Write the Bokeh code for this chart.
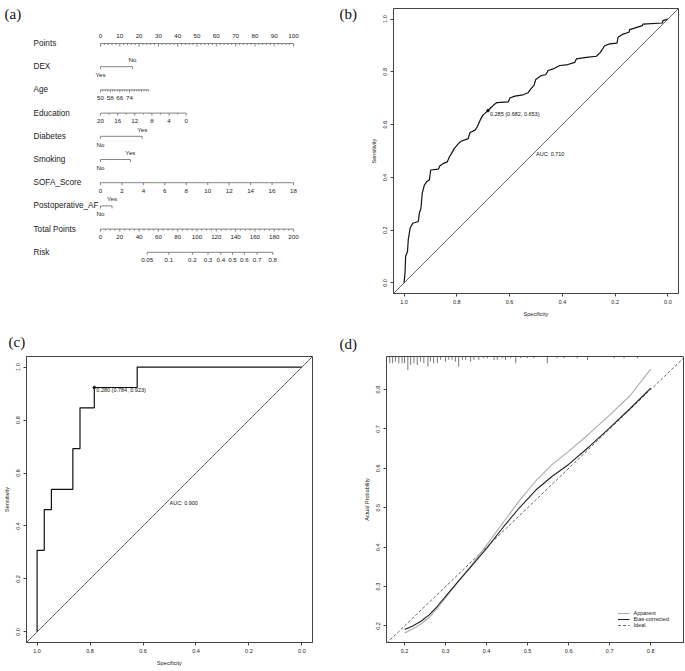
from bokeh.plotting import figure
from bokeh.models import Range1d, FixedTicker, PrintfTickFormatter, Label, Slope, Legend, LegendItem, ColumnDataSource, Title
from bokeh.layouts import row, column
from bokeh.embed import file_html
from bokeh.resources import INLINE
from bokeh.core.properties import value

FONT = "Liberation Sans"
SERIF = "Liberation Serif"

# ---------------- data: (a) nomogram ----------------
nomo_rows = ["Points", "DEX", "Age", "Education", "Diabetes", "Smoking",
             "SOFA_Score", "Postoperative_AF", "Total Points", "Risk"]
points_labels = [0, 10, 20, 30, 40, 50, 60, 70, 80, 90, 100]
dex_levels = ["Yes", "No"]
dex_points = [0.0, 16.6]
age_range = [50, 90]
age_points = [0.0, 25.0]
age_labels = [50, 58, 66, 74]
edu_range = [20, 0]
edu_points = [0.0, 44.4]
edu_labels = [20, 16, 12, 8, 4, 0]
diab_levels = ["No", "Yes"]
diab_points = [0.0, 21.6]
smoke_levels = ["No", "Yes"]
smoke_points = [0.0, 15.5]
sofa_range = [0, 18]
sofa_points = [0.0, 100.0]
sofa_labels = [0, 2, 4, 6, 8, 10, 12, 14, 16, 18]
af_levels = ["No", "Yes"]
af_points = [0.0, 6.0]
total_labels = [0, 20, 40, 60, 80, 100, 120, 140, 160, 180, 200]
risk_labels = ["0.05", "0.1", "0.2", "0.3", "0.4", "0.5", "0.6", "0.7", "0.8"]
risk_total_points = [48.4, 70.8, 95.2, 111.4, 124.7, 136.8, 149.0, 162.3, 178.5]

# ---------------- data: (b) ROC training ----------------
spec_b = [1.000, 0.996, 0.994, 0.987, 0.984, 0.977, 0.967, 0.946, 0.942, 0.936, 0.931,
          0.923, 0.914, 0.904, 0.899, 0.870, 0.864, 0.851, 0.836, 0.828, 0.820, 0.810,
          0.794, 0.784, 0.757, 0.750, 0.731, 0.723, 0.712, 0.702, 0.682, 0.675, 0.660,
          0.649, 0.605, 0.599, 0.580, 0.549, 0.530, 0.517, 0.508, 0.501, 0.488, 0.479,
          0.463, 0.454, 0.435, 0.410, 0.385, 0.353, 0.347, 0.309, 0.271, 0.256, 0.240,
          0.221, 0.193, 0.189, 0.170, 0.148, 0.145, 0.097, 0.095, 0.021, 0.019, 0.000]
sens_b = [0.000, 0.044, 0.101, 0.119, 0.164, 0.208, 0.226, 0.233, 0.264, 0.283, 0.340,
          0.371, 0.384, 0.390, 0.428, 0.431, 0.444, 0.453, 0.459, 0.478, 0.491, 0.509,
          0.528, 0.537, 0.547, 0.570, 0.579, 0.591, 0.616, 0.635, 0.653, 0.660, 0.675,
          0.683, 0.686, 0.701, 0.708, 0.713, 0.721, 0.738, 0.748, 0.771, 0.780, 0.786,
          0.789, 0.805, 0.811, 0.824, 0.826, 0.836, 0.849, 0.855, 0.859, 0.874, 0.899,
          0.906, 0.909, 0.931, 0.943, 0.950, 0.960, 0.975, 0.981, 0.985, 0.994, 1.000]
thr_b = {"thr": 0.285, "spec": 0.682, "sens": 0.653}
auc_b = 0.710

# ---------------- data: (c) ROC validation ----------------
spec_c = [1.0, 1.0, 0.973, 0.973, 0.946, 0.946, 0.865, 0.865, 0.838, 0.838, 0.784, 0.784, 0.622, 0.622, 0.0]
sens_c = [0.0, 0.308, 0.308, 0.462, 0.462, 0.538, 0.538, 0.692, 0.692, 0.846, 0.846, 0.923, 0.923, 1.0, 1.0]
thr_c = {"thr": 0.280, "spec": 0.784, "sens": 0.923}
auc_c = 0.900

# ---------------- data: (d) calibration ----------------
calib_pred = [0.20, 0.22, 0.24, 0.26, 0.28, 0.30, 0.33, 0.36, 0.40, 0.44, 0.48, 0.52,
              0.56, 0.60, 0.65, 0.70, 0.75, 0.80]
calib_apparent = [0.182, 0.192, 0.205, 0.222, 0.245, 0.272, 0.312, 0.350, 0.405, 0.462,
                  0.518, 0.568, 0.610, 0.643, 0.688, 0.735, 0.785, 0.852]
calib_bias = [0.191, 0.200, 0.212, 0.228, 0.250, 0.275, 0.312, 0.348, 0.397, 0.450,
              0.500, 0.545, 0.580, 0.610, 0.655, 0.703, 0.752, 0.804]
rug_x = [0.164, 0.171, 0.178, 0.186, 0.194, 0.200, 0.208, 0.215, 0.223, 0.231, 0.239,
         0.247, 0.257, 0.263, 0.271, 0.280, 0.288, 0.300, 0.308, 0.316, 0.324, 0.332,
         0.341, 0.349, 0.361, 0.369, 0.381, 0.393, 0.402, 0.418, 0.426, 0.438, 0.446,
         0.459, 0.471, 0.483, 0.499, 0.515, 0.548, 0.572, 0.589, 0.621, 0.646, 0.711,
         0.735, 0.768]
rug_count = [4, 4, 3, 4, 4, 4, 8, 5, 4, 5, 3, 4, 6, 3, 4, 4, 2, 3, 2, 2, 3, 6,
             2, 2, 3, 2, 2, 1, 1, 2, 2, 1, 2, 1, 4, 1, 1, 1, 4, 1, 1, 1, 2, 1, 1, 1]

LINE = "#444444"

# layout geometry (page starts at 0,0)
W1A, W2B = 360, 324      # row 1 widths
W1C, W2D = 338, 346      # row 2 widths
H1, H2 = 320, 350
R1_TOP, R1_BOT = 8, 27          # row-1 frame borders
R2_TOP, R2_BOT = 36, 28         # row-2 frame borders

# ================= panel (a) =================
PXX = 1.93           # pixels per point
PXY = 23.2           # pixels per row
X0 = 100             # pixel of 0 points
Y0 = 43              # pixel of row 0
PX = 1 / PXY
fa = figure(width=W1A, height=H1,
            x_range=Range1d(-X0 / PXX, (W1A - X0) / PXX),
            y_range=Range1d((H1 - R1_BOT - Y0) / PXY, (R1_TOP - Y0) / PXY),
            toolbar_location=None, output_backend="svg",
            min_border_left=0, min_border_right=0,
            min_border_top=R1_TOP, min_border_bottom=R1_BOT)
fa.axis.visible = False
fa.grid.visible = False
fa.outline_line_color = None

segs = dict(x0=[], y0=[], x1=[], y1=[])
ticklab = dict(x=[], y=[], text=[])


def seg(x0, y0, x1, y1):
    segs["x0"].append(x0); segs["y0"].append(y0)
    segs["x1"].append(x1); segs["y1"].append(y1)


def tlab(x, y, t):
    ticklab["x"].append(x); ticklab["y"].append(y); ticklab["text"].append(t)


def lin(v, rng, pts):
    return pts[0] + (v - rng[0]) / (rng[1] - rng[0]) * (pts[1] - pts[0])


r = 0
seg(points_labels[0], r, points_labels[-1], r)
for v in range(0, 101, 2):
    seg(v, r, v, r + (3 if v % 10 == 0 else 1.5) * PX)
for v in points_labels:
    tlab(v, r - 8 * PX, str(v))


def categorical(r, levels, pts):
    seg(pts[0], r, pts[1], r)
    seg(pts[0], r, pts[0], r + 2.5 * PX)
    seg(pts[1], r, pts[1], r + 2.5 * PX)
    tlab(pts[0], r + 8 * PX, levels[0])
    tlab(pts[1], r - 7 * PX, levels[1])


def continuous(r, rng, pts, tick_vals, labels):
    seg(lin(rng[0], rng, pts), r, lin(rng[1], rng, pts), r)
    for v in tick_vals:
        x = lin(v, rng, pts)
        seg(x, r, x, r + (2.5 if v in labels else 1.5) * PX)
    for v in labels:
        tlab(lin(v, rng, pts), r + 8 * PX, str(v))


categorical(1, dex_levels, dex_points)
continuous(2, age_range, age_points, list(range(50, 91, 2)), age_labels)
continuous(3, edu_range, edu_points, list(range(0, 21, 2)), edu_labels)
categorical(4, diab_levels, diab_points)
categorical(5, smoke_levels, smoke_points)
continuous(6, sofa_range, sofa_points, sofa_labels, sofa_labels)
categorical(7, af_levels, af_points)
continuous(8, [0, 200], [0, 100], list(range(0, 201, 5)), total_labels)
r = 9
seg(risk_total_points[0] / 2, r, risk_total_points[-1] / 2, r)
for tp, lab in zip(risk_total_points, risk_labels):
    seg(tp / 2, r, tp / 2, r + 2.5 * PX)
    tlab(tp / 2, r + 8 * PX, lab)

fa.segment(x0="x0", y0="y0", x1="x1", y1="y1", source=ColumnDataSource(segs),
           line_color="#666666", line_width=0.8)
fa.text(x="x", y="y", text="text", source=ColumnDataSource(ticklab),
        text_font=value(FONT), text_font_size="6.2px", text_color="#222222",
        text_align="center", text_baseline="middle")
fa.text(x=[(33 - X0) / PXX] * len(nomo_rows), y=list(range(len(nomo_rows))), text=nomo_rows,
        text_font=value(FONT), text_font_size="8.2px", text_color="#222222",
        text_align="left", text_baseline="middle")
# panel tags of the top row (both lie inside this frame)
for tag, px in (("(a)", 4), ("(b)", 339)):
    fa.add_layout(Label(x=(px - X0) / PXX, y=(13 - Y0) / PXY, text=tag, text_font=SERIF,
                        text_font_size="15px", text_baseline="middle", text_color="#111111"))


# ================= helpers =================
def style(p, xticks, yticks, xlabel, ylabel):
    for ax in (p.xaxis[0], p.yaxis[0]):
        ax.major_tick_out = 3
        ax.major_tick_in = 0
        ax.minor_tick_out = 0
        ax.minor_tick_in = 0
        ax.axis_line_color = LINE
        ax.major_tick_line_color = LINE
        ax.major_label_text_font = FONT
        ax.major_label_text_font_size = "5.5px"
        ax.major_label_text_color = "#222222"
        ax.axis_label_text_font = FONT
        ax.axis_label_text_font_size = "5.5px"
        ax.axis_label_text_font_style = "normal"
        ax.axis_label_text_color = "#222222"
        ax.major_label_standoff = 3
        ax.axis_label_standoff = 4
        ax.formatter = PrintfTickFormatter(format="%.1f")
    p.xaxis[0].ticker = FixedTicker(ticks=xticks)
    p.yaxis[0].ticker = FixedTicker(ticks=yticks)
    p.yaxis[0].major_label_orientation = "vertical"
    p.xaxis[0].axis_label = xlabel
    p.yaxis[0].axis_label = ylabel
    p.grid.visible = False
    p.outline_line_color = LINE
    p.outline_line_width = 1


def tag_title(p, text, offset, standoff):
    p.add_layout(Title(text=text, align="left", offset=offset, standoff=standoff,
                       text_font=SERIF, text_font_size="15px", text_font_style="normal",
                       text_color="#111111"), "above")


roc_ticks = [0.0, 0.2, 0.4, 0.6, 0.8, 1.0]


def roc_panel(width, height, borders, spec, sens, thr, auc):
    p = figure(width=width, height=height, x_range=Range1d(1.04, -0.04),
               y_range=Range1d(-0.04, 1.04), toolbar_location=None, output_backend="svg",
               min_border_left=borders[0], min_border_right=borders[1],
               min_border_top=borders[2], min_border_bottom=borders[3])
    style(p, roc_ticks, roc_ticks, "Specificity", "Sensitivity")
    p.add_layout(Slope(gradient=-1, y_intercept=1, line_color=LINE, line_width=0.8))
    p.line(spec, sens, line_color="#111111", line_width=1.2)
    p.scatter([thr["spec"]], [thr["sens"]], size=2.5, color="#111111")
    p.text([thr["spec"]], [thr["sens"]],
           text=["%.3f (%.3f, %.3f)" % (thr["thr"], thr["spec"], thr["sens"])],
           text_font=value(FONT), text_font_size="5.5px", text_color="#111111",
           text_align="left", text_baseline="top", x_offset=2)
    p.text([0.5], [0.5], text=["AUC: %.3f" % auc], text_font=value(FONT),
           text_font_size="5.5px", text_color="#111111", text_align="left",
           text_baseline="top")
    return p


fb = roc_panel(W2B, H1, (33, 6, R1_TOP, R1_BOT), spec_b, sens_b, thr_b, auc_b)
fc = roc_panel(W1C, H2, (23, 26, R2_TOP, R2_BOT), spec_c, sens_c, thr_c, auc_c)
tag_title(fc, "(c)", -18, 14)

# ================= panel (d) =================
D_X = (0.156, 0.880)
D_Y = (0.158, 0.884)
D_BL, D_BR = 48, 1
fd = figure(width=W2D, height=H2, x_range=Range1d(*D_X), y_range=Range1d(*D_Y),
            toolbar_location=None, output_backend="svg",
            min_border_left=D_BL, min_border_right=D_BR,
            min_border_top=R2_TOP, min_border_bottom=R2_BOT)
cal_ticks = [0.2, 0.3, 0.4, 0.5, 0.6, 0.7, 0.8]
style(fd, cal_ticks, cal_ticks, "", "Actual Probability")
tag_title(fd, "(d)", -47, 10)
d_fh = H2 - R2_TOP - R2_BOT
unit = (D_Y[1] - D_Y[0]) / d_fh * 1.7
fd.segment(x0=rug_x, x1=rug_x, y0=[D_Y[1]] * len(rug_x),
           y1=[D_Y[1] - c * unit for c in rug_count], line_color="#555555", line_width=0.8)
r_ideal = fd.line([D_X[0], D_X[1]], [D_X[0], D_X[1]], line_color="#555555",
                  line_width=0.9, line_dash="3 2")
r_app = fd.line(calib_pred, calib_apparent, line_color="#aaaaaa", line_width=1.1)
r_bias = fd.line(calib_pred, calib_bias, line_color="#222222", line_width=1.1)
leg = Legend(items=[LegendItem(label="Apparent", renderers=[r_app]),
                    LegendItem(label="Bias-corrected", renderers=[r_bias]),
                    LegendItem(label="Ideal", renderers=[r_ideal])],
             location="bottom_right", border_line_color=None, background_fill_alpha=0,
             label_text_font=FONT, label_text_font_size="5.5px", label_text_color="#222222",
             glyph_width=12, glyph_height=6, label_height=6, spacing=0, padding=2,
             margin=14, label_standoff=4)
fd.add_layout(leg)

layout = column(row(fa, fb), row(fc, fd))
open("out.html", "w").write(file_html(layout, INLINE))
